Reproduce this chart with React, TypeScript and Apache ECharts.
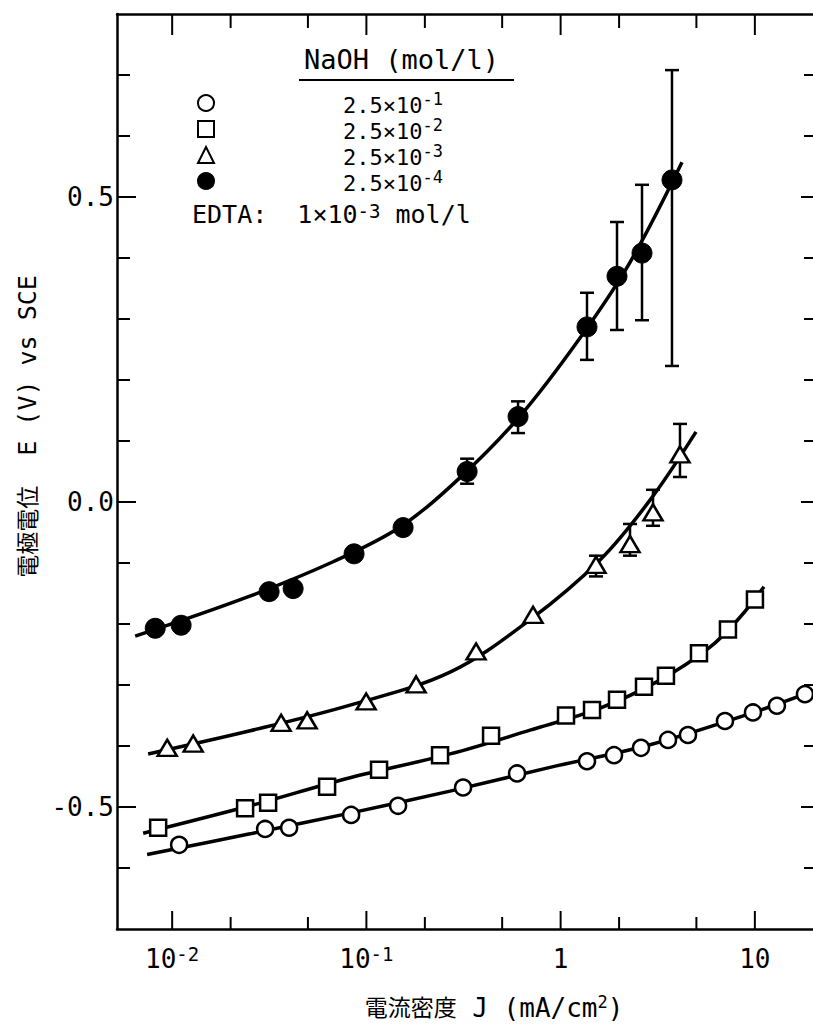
import React, { useEffect, useRef } from "react";
import * as echarts from "echarts";

// ---- axis ranges ----
const X_MIN = 0.0052;
const X_MAX = 20.4;
const Y_MIN = -0.7;
const Y_MAX = 0.8;

const MONO = "'DejaVu Sans Mono', 'Liberation Mono', monospace";
const JP = "'DejaVu Sans Mono', 'Noto Sans CJK JP', sans-serif";

// ---- legend names (NaOH concentration, mol/l) ----
const legendNames = ["2.5×10^-1", "2.5×10^-2", "2.5×10^-3", "2.5×10^-4"];

// ---- NaOH 2.5e-1 (open circles) ----
const c1J = [0.01086, 0.0301, 0.04002, 0.08344, 0.1456, 0.3146, 0.5964, 1.367, 1.883, 2.593, 3.571, 4.525, 7.016, 9.777, 12.99, 18.11];
const c1E = [-0.562, -0.536, -0.534, -0.513, -0.498, -0.468, -0.445, -0.425, -0.415, -0.403, -0.39, -0.382, -0.359, -0.345, -0.334, -0.315];
const f1J = [0.00743, 0.0252, 0.0824, 0.2697, 0.882, 2.884, 9.437, 20.4];
const f1E = [-0.578, -0.544, -0.51, -0.474, -0.435, -0.398, -0.347, -0.309];

// ---- NaOH 2.5e-2 (open squares) ----
const c2J = [0.00847, 0.02374, 0.03119, 0.06276, 0.1162, 0.2394, 0.4384, 1.066, 1.451, 1.951, 2.687, 3.486, 5.156, 7.268, 10.01];
const c2E = [-0.534, -0.502, -0.493, -0.467, -0.439, -0.415, -0.383, -0.35, -0.341, -0.324, -0.303, -0.285, -0.248, -0.209, -0.16];
const f2J = [0.00709, 0.0252, 0.0824, 0.2697, 0.696, 1.595, 3.248, 5.875, 8.381, 11.14];
const f2E = [-0.543, -0.498, -0.452, -0.413, -0.374, -0.338, -0.292, -0.238, -0.189, -0.139];

// ---- NaOH 2.5e-3 (open triangles) ----
const c3J = [0.00943, 0.01283, 0.03639, 0.04953, 0.0997, 0.1803, 0.367, 0.721, 1.521, 2.276, 2.99, 4.116];
const c3E = [-0.403, -0.396, -0.362, -0.358, -0.327, -0.299, -0.245, -0.185, -0.103, -0.069, -0.017, 0.078];
const f3J = [0.00752, 0.0252, 0.0824, 0.2697, 0.696, 1.595, 2.884, 4.977];
const f3E = [-0.413, -0.375, -0.333, -0.279, -0.193, -0.095, 0.003, 0.115];
const e3J = [1.521, 2.276, 2.99, 4.116];
const e3Lo = [-0.122, -0.088, -0.039, 0.041];
const e3Hi = [-0.088, -0.036, 0.02, 0.128];

// ---- NaOH 2.5e-4 (filled circles) ----
const c4J = [0.00818, 0.01112, 0.03156, 0.04195, 0.0864, 0.1545, 0.33, 0.6036, 1.367, 1.951, 2.624, 3.744];
const c4E = [-0.207, -0.202, -0.147, -0.142, -0.085, -0.042, 0.05, 0.14, 0.287, 0.37, 0.408, 0.528];
const f4J = [0.00645, 0.0243, 0.0674, 0.1491, 0.3035, 0.618, 1.258, 2.276, 4.215];
const f4E = [-0.22, -0.156, -0.098, -0.041, 0.04, 0.141, 0.269, 0.393, 0.557];
const e4J = [0.33, 0.6036, 1.367, 1.951, 2.624, 3.744];
const e4Lo = [0.03, 0.113, 0.233, 0.282, 0.298, 0.223];
const e4Hi = [0.071, 0.165, 0.343, 0.459, 0.52, 0.708];

// ---- ticks ----
const xMajorTicks = [0.01, 0.1, 1, 10];
const xMinorTicks = [0.02, 0.05, 0.2, 0.5, 2, 5];
const yMajorTicks = [-0.5, 0, 0.5];
const yMinorTicks = [-0.6, -0.4, -0.3, -0.2, -0.1, 0.1, 0.2, 0.3, 0.4, 0.6, 0.7];

const zip = (a: number[], b: number[]) => a.map((v, i) => [v, b[i]]);
const zip3 = (a: number[], b: number[], c: number[]) => a.map((v, i) => [v, b[i], c[i]]);

const tickData = [
  ...xMajorTicks.map((v) => [v, Y_MIN, 0, 18]),
  ...xMinorTicks.map((v) => [v, Y_MIN, 0, 12]),
  ...xMajorTicks.map((v) => [v, Y_MAX, 1, 21]),
  ...xMinorTicks.map((v) => [v, Y_MAX, 1, 14]),
  ...yMajorTicks.map((v) => [X_MIN, v, 2, 19]),
  ...yMinorTicks.map((v) => [X_MIN, v, 2, 13]),
  ...yMajorTicks.map((v) => [X_MAX, v, 3, 14]),
  ...yMinorTicks.map((v) => [X_MAX, v, 3, 11]),
];

const supRich = (size: number, supSize: number, lh: number) => ({
  b: { fontFamily: MONO, fontSize: size, fontWeight: "normal", color: "#000", lineHeight: lh, verticalAlign: "bottom" },
  s: { fontFamily: MONO, fontSize: supSize, fontWeight: "normal", color: "#000", lineHeight: lh, verticalAlign: "top" },
});

const toRich = (name: string) => {
  const [base, sup] = name.split("^");
  return sup ? `{b|${base}}{s|${sup}}` : `{b|${base}}`;
};

const option: any = {
  animation: false,
  backgroundColor: "#fff",
  grid: { left: 117, right: 5, top: 14, bottom: 101, containLabel: false },
  title: [
    {
      text: "NaOH (mol/l)",
      left: 304,
      top: 46,
      padding: 0,
      textStyle: { fontFamily: MONO, fontSize: 27, fontWeight: "normal", color: "#000" },
    },
    {
      text: "{b|EDTA:  1×10}{s|-3}{b| mol/l}",
      left: 192,
      top: 201,
      padding: 0,
      textStyle: { fontWeight: "normal", rich: supRich(25, 19, 26) },
    },
  ],
  graphic: [
    { type: "line", shape: { x1: 299, y1: 80, x2: 514, y2: 80 }, style: { stroke: "#000", lineWidth: 2 } },
  ],
  legend: {
    orient: "vertical",
    left: 197,
    top: 90,
    itemWidth: 16,
    itemHeight: 16,
    itemGap: 0,
    padding: 0,
    data: legendNames,
    formatter: (name: string) => toRich(name),
    textStyle: { padding: [0, 0, 0, 124], rich: supRich(22, 17, 26) },
  },
  xAxis: [
    {
      type: "log",
      logBase: 10,
      min: X_MIN,
      max: X_MAX,
      position: "bottom",
      axisLine: { show: true, onZero: false, lineStyle: { color: "#000", width: 2.5 } },
      axisTick: { show: false },
      minorTick: { show: false },
      splitLine: { show: false },
      axisLabel: {
        margin: 15,
        showMinLabel: false,
        showMaxLabel: false,
        formatter: (v: number) => {
          const e = Math.round(Math.log10(v));
          if (Math.abs(Math.log10(v) - e) > 1e-6) return "";
          if (e >= 0) return `{b|${Math.pow(10, e)}}`;
          return `{b|10}{s|${e}}`;
        },
        rich: supRich(26, 19, 28),
      },
      name: "{c|電流密度} J (mA/cm{s|2})",
      nameLocation: "middle",
      nameGap: 64,
      nameTextStyle: {
        fontFamily: MONO,
        fontSize: 26,
        color: "#000",
        lineHeight: 30,
        padding: [0, 0, 0, 56],
        rich: {
          c: { fontFamily: JP, fontSize: 23, color: "#000", lineHeight: 30 },
          s: { fontFamily: MONO, fontSize: 17, color: "#000", lineHeight: 30, verticalAlign: "top" },
        },
      },
    },
    {
      type: "log",
      logBase: 10,
      min: X_MIN,
      max: X_MAX,
      position: "top",
      axisLine: { show: true, onZero: false, lineStyle: { color: "#000", width: 2.5 } },
      axisTick: { show: false },
      axisLabel: { show: false },
      splitLine: { show: false },
    },
  ],
  yAxis: {
    type: "value",
    min: Y_MIN,
    max: Y_MAX,
    interval: 0.1,
    axisLine: { show: true, onZero: false, lineStyle: { color: "#000", width: 2.5 } },
    axisTick: { show: false },
    splitLine: { show: false },
    axisLabel: {
      margin: 3,
      fontFamily: MONO,
      fontSize: 26,
      color: "#000",
      formatter: (v: number) => {
        const k = v * 2;
        if (Math.abs(k - Math.round(k)) > 1e-6) return "";
        return v.toFixed(1);
      },
    },
    name: "{c|電極電位}  E (V) vs SCE",
    nameLocation: "middle",
    nameGap: 68,
    nameTextStyle: {
      fontFamily: MONO,
      fontSize: 25,
      color: "#000",
      padding: [0, 0, 0, 90],
      rich: { c: { fontFamily: JP, fontSize: 23, color: "#000" } },
    },
  },
  series: [
    {
      type: "custom",
      name: "ticks",
      silent: true,
      z: 5,
      data: tickData,
      renderItem: (params: any, api: any) => {
        const p = api.coord([api.value(0), api.value(1)]);
        const side = api.value(2);
        const len = api.value(3);
        let x2 = p[0];
        let y2 = p[1];
        if (side === 0) y2 -= len;
        else if (side === 1) y2 += len;
        else if (side === 2) x2 += len;
        else x2 -= len;
        return { type: "line", shape: { x1: p[0], y1: p[1], x2, y2 }, style: { stroke: "#000", lineWidth: 2 } };
      },
    },
    ...[zip3(e3J, e3Lo, e3Hi), zip3(e4J, e4Lo, e4Hi)].map((d, i) => ({
      type: "custom",
      name: "errbar" + i,
      silent: true,
      z: 1,
      encode: { x: 0, y: [1, 2] },
      data: d,
      renderItem: (params: any, api: any) => {
        const lo = api.coord([api.value(0), api.value(1)]);
        const hi = api.coord([api.value(0), api.value(2)]);
        const hw = 7;
        const st = { stroke: "#000", lineWidth: 2.5 };
        return {
          type: "group",
          children: [
            { type: "line", shape: { x1: lo[0], y1: lo[1], x2: hi[0], y2: hi[1] }, style: st },
            { type: "line", shape: { x1: lo[0] - hw, y1: lo[1], x2: lo[0] + hw, y2: lo[1] }, style: st },
            { type: "line", shape: { x1: hi[0] - hw, y1: hi[1], x2: hi[0] + hw, y2: hi[1] }, style: st },
          ],
        };
      },
    })),
    ...[zip(f1J, f1E), zip(f2J, f2E), zip(f3J, f3E), zip(f4J, f4E)].map((d, i) => ({
      type: "line",
      name: "fit" + i,
      data: d,
      smooth: 0.35,
      symbol: "none",
      showSymbol: false,
      silent: true,
      z: 2,
      lineStyle: { color: "#000", width: 3.5 },
    })),
    {
      type: "scatter",
      name: legendNames[0],
      data: zip(c1J, c1E),
      symbol: "circle",
      symbolSize: 16,
      z: 4,
      itemStyle: { color: "#fff", borderColor: "#000", borderWidth: 2.5, opacity: 1 },
    },
    {
      type: "scatter",
      name: legendNames[1],
      data: zip(c2J, c2E),
      symbol: "rect",
      symbolSize: 16,
      z: 4,
      itemStyle: { color: "#fff", borderColor: "#000", borderWidth: 2.5, opacity: 1 },
    },
    {
      type: "scatter",
      name: legendNames[2],
      data: zip(c3J, c3E),
      symbol: "triangle",
      symbolSize: [19, 16],
      z: 4,
      itemStyle: { color: "#fff", borderColor: "#000", borderWidth: 2.5, opacity: 1 },
    },
    {
      type: "scatter",
      name: legendNames[3],
      data: zip(c4J, c4E),
      symbol: "circle",
      symbolSize: 20,
      z: 4,
      itemStyle: { color: "#000", borderColor: "#000", borderWidth: 1, opacity: 1 },
    },
  ],
};

export default function App() {
  const ref = useRef<HTMLDivElement>(null);
  useEffect(() => {
    if (!ref.current) return;
    const chart = echarts.init(ref.current, undefined, { renderer: "svg" });
    chart.setOption(option);
    return () => chart.dispose();
  }, []);
  return (
    <div
      style={{
        position: "absolute",
        left: 0,
        top: 0,
        width: 813,
        height: 1030,
        overflow: "hidden",
        background: "#fff",
      }}
    >
      <div ref={ref} style={{ width: 820, height: 1030 }} />
    </div>
  );
}
